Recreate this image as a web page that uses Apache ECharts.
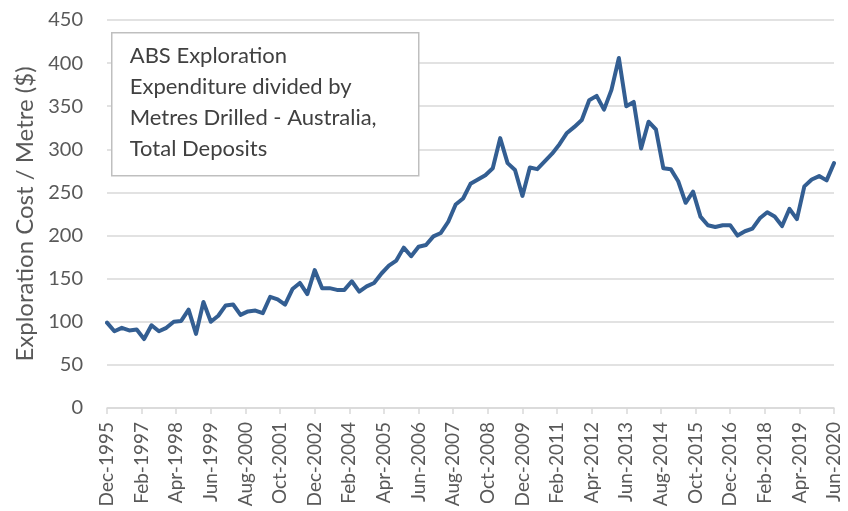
<!DOCTYPE html>
<html>
<head>
<meta charset="utf-8">
<script src="https://cdn.jsdelivr.net/npm/echarts@6/dist/echarts.min.js"></script>
<style>
html,body{margin:0;padding:0;background:#fff;}
#chart{width:848px;height:511px;}
</style>
</head>
<body>
<div id="chart"></div>
<script>
// Quarterly series, Dec-1995 .. Jun-2020 (one value per quarter)
const startLabel = 'Dec-1995';
const values = [
  99, 89, 93, 90, 91, 80, 96, 89, 93, 100,
  101, 114, 86, 123, 100, 107, 119, 120, 108, 112,
  113, 110, 129, 126, 120, 138, 145, 132, 160, 139,
  139, 137, 137, 147, 135, 141, 145, 156, 165, 171,
  186, 176, 187, 189, 199, 203, 216, 236, 243, 260,
  265, 270, 278, 313, 284, 276, 246, 279, 277, 286,
  295, 306, 319, 326, 334, 357, 362, 346, 369, 406,
  350, 355, 301, 332, 323, 278, 277, 263, 238, 251,
  222, 212, 210, 212, 212, 200, 205, 208, 220, 227,
  222, 211, 231, 219, 257, 265, 269, 264, 284
];
const tickLabels = [
  'Dec-1995','Feb-1997','Apr-1998','Jun-1999','Aug-2000','Oct-2001',
  'Dec-2002','Feb-2004','Apr-2005','Jun-2006','Aug-2007','Oct-2008',
  'Dec-2009','Feb-2011','Apr-2012','Jun-2013','Aug-2014','Oct-2015',
  'Dec-2016','Feb-2018','Apr-2019','Jun-2020'
];
const yTicks = [0, 50, 100, 150, 200, 250, 300, 350, 400, 450];
const yTitle = 'Exploration Cost / Metre ($)';
const boxText = 'ABS Exploration\nExpenditure divided by\nMetres Drilled - Australia,\nTotal Deposits';

// months since Dec-1995 for each quarterly observation
const monthsPerQuarter = 3;
const monthsPerTick = 14;
const seriesData = values.map((v, i) => [i * monthsPerQuarter, v]);

const FONT = 'Lato';
const chart = echarts.init(document.getElementById('chart'), null, {renderer: 'canvas'});
chart.setOption({
  backgroundColor: '#ffffff',
  animation: false,
  grid: {left: 107, right: 14, top: 20, bottom: 103, containLabel: false},
  xAxis: {
    type: 'value',
    min: 0,
    max: (tickLabels.length - 1) * monthsPerTick,
    interval: monthsPerTick,
    axisLine: {show: true, lineStyle: {color: '#d9d9d9', width: 1.5}},
    axisTick: {show: true, length: 6, lineStyle: {color: '#d9d9d9', width: 1.5}},
    splitLine: {show: false},
    axisLabel: {
      rotate: 90,
      margin: 14,
      color: '#595959',
      fontFamily: FONT,
      fontSize: 19,
      formatter: v => tickLabels[Math.round(v / monthsPerTick)] || ''
    }
  },
  yAxis: {
    type: 'value',
    min: yTicks[0],
    max: yTicks[yTicks.length - 1],
    interval: yTicks[1] - yTicks[0],
    name: yTitle,
    nameLocation: 'middle',
    nameGap: 70,
    nameTextStyle: {color: '#595959', fontFamily: FONT, fontSize: 24},
    axisLine: {show: false},
    axisTick: {show: false},
    splitLine: {show: true, lineStyle: {color: '#d9d9d9', width: 1.5}},
    axisLabel: {color: '#595959', fontFamily: FONT, fontSize: 20, margin: 24}
  },
  series: [{
    type: 'line',
    data: seriesData,
    showSymbol: false,
    symbol: 'none',
    lineStyle: {color: '#335e92', width: 4, join: 'round', cap: 'round'},
    z: 3
  }],
  graphic: [{
    type: 'group',
    left: 111,
    top: 32,
    z: 100,
    zlevel: 1,
    children: [{
      type: 'rect',
      z: 100,
      shape: {x: 0, y: 0, width: 307, height: 143},
      style: {fill: '#ffffff', stroke: '#bfbfbf', lineWidth: 1.5}
    }, {
      type: 'text',
      z: 101,
      x: 18,
      y: 8,
      style: {
        text: boxText,
        fill: '#404040',
        font: '22px ' + FONT,
        lineHeight: 31,
        verticalAlign: 'top'
      }
    }]
  }]
});
</script>
</body>
</html>
